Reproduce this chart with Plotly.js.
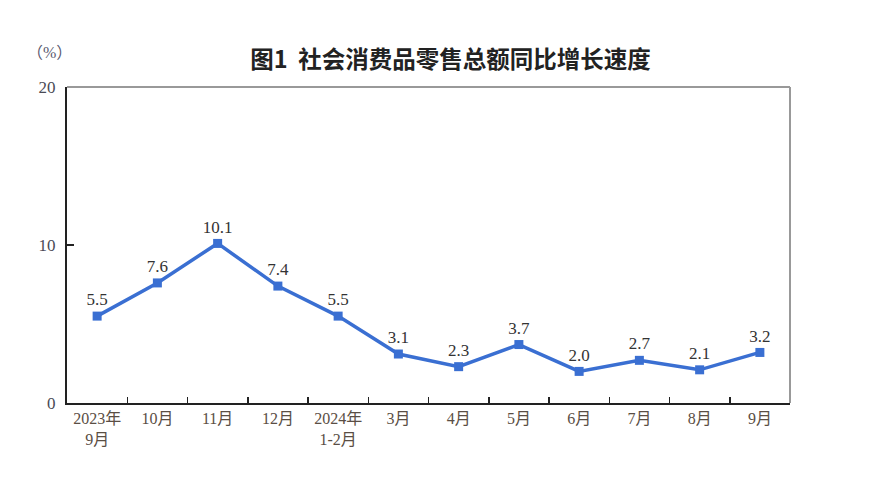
<!DOCTYPE html>
<html><head><meta charset="utf-8">
<script src="https://cdn.plot.ly/plotly-3.0.1.min.js"></script>
<style>html,body{margin:0;padding:0;background:#fff}#c{width:880px;height:487px}</style>
</head><body><div id="c"></div>
<script>
const categories = ["2023年<br>9月","10月","11月","12月","2024年<br>1-2月","3月","4月","5月","6月","7月","8月","9月"];
const values = [5.5,7.6,10.1,7.4,5.5,3.1,2.3,3.7,2.0,2.7,2.1,3.2];
const labels = values.map(v => v.toFixed(1));
const yTicks = [0,10,20];

const serif = "Liberation Serif, Noto Sans CJK SC, serif";
const trace = {
  x: categories, y: values, type: "scatter", mode: "lines+markers+text",
  text: labels, textposition: "top center",
  textfont: {family: serif, size: 17, color: "#333"},
  line: {color: "#3a6fd2", width: 3.5},
  marker: {symbol: "square", size: 9, color: "#3a6fd2"},
  hoverinfo: "skip", cliponaxis: false
};
const layout = {
  width: 880, height: 487,
  margin: {l: 67, r: 90, t: 87, b: 84},
  paper_bgcolor: "#fff", plot_bgcolor: "#fff",
  showlegend: false,
  title: {text: "<b>图1  社会消费品零售总额同比增长速度</b>", x: 0.512, xanchor: "center", y: 0.877, yanchor: "middle",
          font: {family: "Noto Sans CJK SC, sans-serif", size: 23.5, color: "#222"}},
  xaxis: {type: "category", tickson: "boundaries", ticks: "inside", ticklen: 6, tickcolor: "#222", tickwidth: 1.5,
          showline: true, linecolor: "#222", linewidth: 2, showgrid: false, zeroline: false,
          tickfont: {family: serif, size: 16, color: "#5a4e44"}, range: [-0.5, 11.5], fixedrange: true},
  yaxis: {range: [0, 20], tickvals: yTicks, ticks: "inside", ticklen: 7, tickcolor: "#222", tickwidth: 1.5,
          showline: true, linecolor: "#222", linewidth: 2, showgrid: false, zeroline: false,
          tickfont: {family: serif, size: 17, color: "#4a4a55"}, ticklabelstandoff: 6, fixedrange: true},
  shapes: [
    {type: "line", xref: "paper", yref: "paper", x0: 0, x1: 1, y0: 1, y1: 1, line: {color: "#999", width: 2}},
    {type: "line", xref: "paper", yref: "paper", x0: 1, x1: 1, y0: 0, y1: 1, line: {color: "#999", width: 2}}
  ],
  annotations: [
    {text: "（%）", xref: "paper", yref: "paper", x: 0.01, y: 1.11, xanchor: "right", yanchor: "middle", showarrow: false,
     font: {family: serif, size: 16, color: "#5a5a70"}}
  ]
};
Plotly.newPlot("c", [trace], layout, {displayModeBar: false, staticPlot: true});
</script></body></html>
